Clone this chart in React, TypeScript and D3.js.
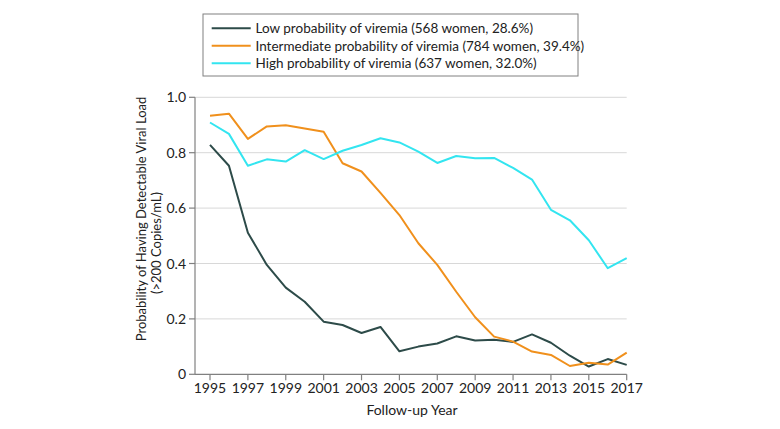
import React from "react";
import * as d3 from "d3";

const years = [1995,1996,1997,1998,1999,2000,2001,2002,2003,2004,2005,2006,2007,2008,2009,2010,2011,2012,2013,2014,2015,2016,2017];
const lowValues = [0.828,0.753,0.511,0.395,0.313,0.262,0.190,0.178,0.149,0.171,0.083,0.100,0.111,0.137,0.122,0.125,0.117,0.144,0.114,0.067,0.028,0.055,0.034];
const intermediateValues = [0.933,0.941,0.850,0.895,0.899,0.887,0.876,0.762,0.732,0.655,0.575,0.473,0.395,0.298,0.206,0.136,0.118,0.082,0.070,0.030,0.042,0.035,0.078];
const highValues = [0.909,0.868,0.753,0.776,0.768,0.809,0.777,0.807,0.828,0.852,0.837,0.804,0.763,0.788,0.780,0.781,0.745,0.703,0.594,0.556,0.484,0.383,0.419];
const seriesNames = [
  "Low probability of viremia (568 women, 28.6%)",
  "Intermediate probability of viremia (784 women, 39.4%)",
  "High probability of viremia (637 women, 32.0%)",
];
const xTicks = [1995,1997,1999,2001,2003,2005,2007,2009,2011,2013,2015,2017];
const yTicks = [0,0.2,0.4,0.6,0.8,1.0];
const colors = ["#2d4b49", "#f0901c", "#33e5f0"];

const FONT = "Lato, 'Noto Sans', sans-serif";

export default function App() {
  const W = 780, H = 429;
  const x = d3.scaleLinear().domain([1995, 2017]).range([210, 626.7]);
  const y = d3.scaleLinear().domain([0, 1]).range([374.3, 97.3]);
  const series = [lowValues, intermediateValues, highValues];
  const line = d3.line<number>().x((_, i) => x(years[i])).y((v) => y(v));
  const axisX = 195;
  return (
    <svg width={W} height={H} style={{ position: "absolute", left: 0, top: 0, background: "#fff" }} fontFamily={FONT}>
      {yTicks.filter(t => t > 0).map(t => (
        <line key={"g"+t} x1={axisX} x2={626.7} y1={y(t)} y2={y(t)} stroke="#d8d8d8" strokeWidth={1} />
      ))}
      {series.map((s, k) => (
        <path key={k} d={line(s) || ""} fill="none" stroke={colors[k]} strokeWidth={2} strokeLinejoin="round" />
      ))}
      <line x1={axisX} x2={axisX} y1={y(1)} y2={y(0)} stroke="#808080" strokeWidth={1.2} />
      <line x1={axisX} x2={626.7} y1={y(0)} y2={y(0)} stroke="#808080" strokeWidth={1.2} />
      {yTicks.map(t => (
        <g key={"yt"+t}>
          <line x1={axisX - 6} x2={axisX} y1={y(t)} y2={y(t)} stroke="#808080" strokeWidth={1.2} />
          <text x={axisX - 9} y={y(t)} dy="0.36em" textAnchor="end" fontSize={14} fill="#222">{t === 0 ? "0" : t.toFixed(1)}</text>
        </g>
      ))}
      {xTicks.map(t => (
        <g key={"xt"+t}>
          <line x1={x(t)} x2={x(t)} y1={y(0)} y2={y(0) + 6} stroke="#808080" strokeWidth={1.2} />
          <text x={x(t)} y={y(0) + 19} textAnchor="middle" fontSize={14} fill="#222">{t}</text>
        </g>
      ))}
      <text x={412} y={415} textAnchor="middle" fontSize={14} fill="#222">Follow-up Year</text>
      <text transform="translate(146,219) rotate(-90)" textAnchor="middle" fontSize={13} fill="#222">Probability of Having Detectable Viral Load</text>
      <text transform="translate(161,243) rotate(-90)" textAnchor="middle" fontSize={13} fill="#222">(&gt;200 Copies/mL)</text>
      <rect x={203} y={14} width={375} height={62} fill="#fff" stroke="#808080" strokeWidth={1} />
      {seriesNames.map((n, k) => (
        <g key={"lg"+k} transform={`translate(0,${28.3 + k * 17.5})`}>
          <line x1={211.7} x2={250.7} y1={0} y2={0} stroke={colors[k]} strokeWidth={2} />
          <text x={255.5} y={0} dy="0.36em" fontSize={13.5} fill="#222">{n}</text>
        </g>
      ))}
    </svg>
  );
}
